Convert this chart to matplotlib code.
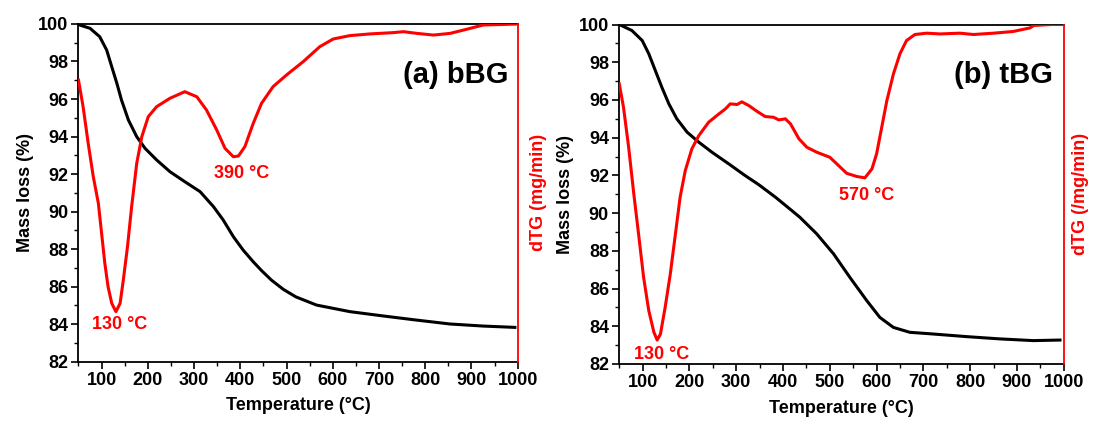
import matplotlib
matplotlib.use('Agg')
import matplotlib.pyplot as plt

plt.rcParams['font.family'] = ['Liberation Sans', 'DejaVu Sans']
plt.rcParams['font.weight'] = 'bold'

# (a) bBG : TG curve (mass %) and dTG curve (drawn on the same 82-100 frame)
temp_a_tg = [50, 52, 75, 96, 111, 122, 133, 143, 158, 176, 194, 219, 248, 280, 313, 342,
             363, 385, 406, 428, 446, 467, 493, 520, 565, 637, 709, 781, 854, 926, 994]
mass_a = [99.96, 99.95, 99.77, 99.32, 98.61, 97.72, 96.84, 95.95, 94.88, 93.99, 93.37,
          92.75, 92.12, 91.59, 91.06, 90.26, 89.55, 88.66, 87.95, 87.32, 86.85, 86.35,
          85.85, 85.45, 85.01, 84.66, 84.43, 84.21, 84.0, 83.89, 83.82]
temp_a_dtg = [50, 60, 71, 82, 93, 100, 107, 114, 122, 131, 140, 147, 156, 165, 176, 187,
              201, 219, 248, 280, 306, 327, 349, 367, 385, 396, 410, 428, 446, 471, 500,
              536, 572, 601, 637, 680, 731, 753, 782, 818, 854, 890, 926, 961, 1000]
dtg_a = [97.01, 95.59, 93.64, 91.86, 90.44, 88.84, 87.24, 85.99, 85.1, 84.66, 85.1, 86.35,
         88.12, 90.26, 92.57, 93.99, 95.06, 95.59, 96.04, 96.39, 96.12, 95.41, 94.35, 93.37,
         92.92, 92.96, 93.46, 94.7, 95.77, 96.66, 97.28, 97.99, 98.79, 99.2, 99.38, 99.47,
         99.54, 99.59, 99.5, 99.41, 99.5, 99.72, 99.95, 99.97, 100.0]

# (b) tBG
temp_b_tg = [50, 77, 99, 113, 127, 141, 156, 173, 195, 220, 248, 284, 319, 348, 384, 419,
             436, 472, 508, 543, 579, 607, 636, 671, 721, 793, 864, 935, 992]
mass_b = [100.0, 99.68, 99.15, 98.45, 97.56, 96.67, 95.79, 95.0, 94.29, 93.76, 93.23,
          92.61, 91.99, 91.51, 90.84, 90.13, 89.78, 88.9, 87.84, 86.59, 85.36, 84.47,
          83.94, 83.68, 83.59, 83.45, 83.33, 83.24, 83.27]
temp_b_dtg = [50, 59, 70, 81, 92, 102, 113, 124, 131, 138, 148, 159, 170, 180, 191, 205,
              220, 241, 263, 277, 287, 302, 312, 327, 344, 362, 380, 391, 405, 416, 434,
              451, 472, 500, 515, 536, 558, 575, 590, 600, 611, 622, 636, 650, 664, 682,
              707, 736, 778, 807, 850, 892, 928, 936, 974, 1000]
dtg_b = [96.85, 95.61, 93.49, 91.02, 88.72, 86.59, 84.83, 83.68, 83.27, 83.59, 85.0, 86.77,
         88.9, 90.84, 92.25, 93.4, 94.11, 94.82, 95.26, 95.53, 95.79, 95.76, 95.9, 95.7,
         95.4, 95.12, 95.08, 94.94, 95.0, 94.73, 93.94, 93.49, 93.23, 92.96, 92.61, 92.11,
         91.94, 91.87, 92.34, 93.14, 94.55, 95.97, 97.38, 98.45, 99.15, 99.47, 99.54, 99.5,
         99.54, 99.47, 99.54, 99.63, 99.82, 99.95, 100.0, 100.0]

panels = [
    dict(rect=[0.0718, 0.1413, 0.4018, 0.8017], tg=(temp_a_tg, mass_a), dtg=(temp_a_dtg, dtg_a),
         title='(a) bBG', title_pos=(981, 97.28), rlabel='dTG (mg/min)', rpad=9,
         notes=[('130 °C', 139, 83.95), ('390 °C', 403, 92.04)]),
    dict(rect=[0.5666, 0.1354, 0.4066, 0.8064], tg=(temp_b_tg, mass_b), dtg=(temp_b_dtg, dtg_b),
         title='(b) tBG', title_pos=(977, 97.3), rlabel='dTG (/mg/min)', rpad=6,
         notes=[('130 °C', 140, 82.53), ('570 °C', 579, 90.93)]),
]

red = '#ff0000'
fig = plt.figure(figsize=(10.93, 4.21), dpi=100)

for p in panels:
    ax = fig.add_axes(p['rect'])
    ax.plot(p['tg'][0], p['tg'][1], color='black', lw=2.2, solid_joinstyle='round')
    ax.set_xlim(50, 1000)
    ax.set_ylim(82, 100)
    ax.set_xticks(range(100, 1001, 100))
    ax.set_xticks(range(50, 1001, 50), minor=True)
    ax.set_yticks(range(82, 101, 2))
    ax.set_yticks(range(82, 101, 1), minor=True)
    ax.tick_params(axis='both', which='major', direction='out', length=5, width=1.2,
                   labelsize=13, pad=2.5)
    ax.tick_params(axis='both', which='minor', direction='out', length=3, width=1)
    for lab in ax.get_xticklabels() + ax.get_yticklabels():
        lab.set_fontweight('bold')
    ax.set_xlabel('Temperature (°C)', fontsize=13, fontweight='bold', labelpad=6)
    ax.set_ylabel('Mass loss (%)', fontsize=13, fontweight='bold', labelpad=3)
    for s in ['left', 'bottom', 'top']:
        ax.spines[s].set_linewidth(1.3)
    ax.spines['right'].set_visible(False)

    ax2 = ax.twinx()
    ax2.plot(p['dtg'][0], p['dtg'][1], color=red, lw=2.2, solid_joinstyle='round')
    ax2.set_ylim(82, 100)
    ax2.set_yticks([])
    ax2.spines['right'].set_color(red)
    ax2.spines['right'].set_linewidth(1.3)
    for s in ['left', 'bottom', 'top']:
        ax2.spines[s].set_visible(False)
    ax2.set_ylabel(p['rlabel'], color=red, fontsize=13, fontweight='bold', labelpad=p['rpad'])

    ax2.text(p['title_pos'][0], p['title_pos'][1], p['title'], fontsize=21,
             fontweight='bold', ha='right', va='center')
    for txt, x, y in p['notes']:
        ax2.text(x, y, txt, color=red, fontsize=13, fontweight='bold',
                 ha='center', va='center')

fig.savefig('out.png', dpi=100)
